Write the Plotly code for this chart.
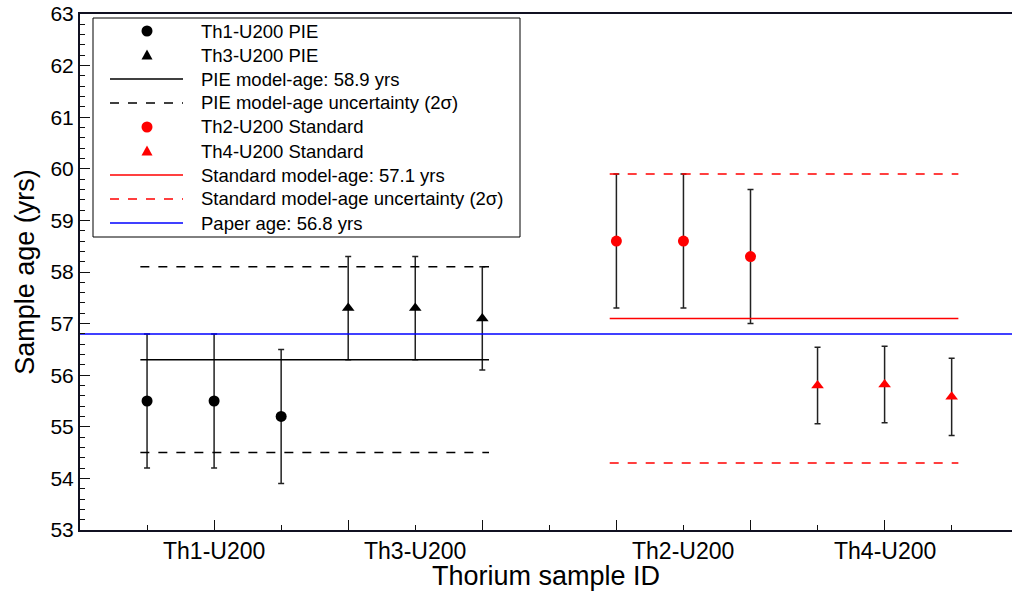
import plotly.graph_objects as go

# ---- data ----
x_th1 = [1, 2, 3]
x_th3 = [4, 5, 6]
x_th2 = [8, 9, 10]
x_th4 = [11, 12, 13]

th1_age = [55.5, 55.5, 55.2]
th1_err = [1.3, 1.3, 1.3]
th3_age = [57.3, 57.3, 57.1]
th3_err = [1.0, 1.0, 1.0]
th2_age = [58.6, 58.6, 58.3]
th2_err = [1.3, 1.3, 1.3]
th4_age = [55.8, 55.82, 55.58]
th4_err = [0.74, 0.74, 0.75]

pie_model = 56.3
pie_upper = 58.1
pie_lower = 54.5
std_model = 57.1
std_upper = 59.9
std_lower = 54.3
paper_age = 56.8

label_pos = [2, 5, 9, 12]
label_text = ["Th1-U200", "Th3-U200", "Th2-U200", "Th4-U200"]

legend_names = [
    "Th1-U200 PIE",
    "Th3-U200 PIE",
    "PIE model-age: 58.9 yrs",
    "PIE model-age uncertainty (2σ)",
    "Th2-U200 Standard",
    "Th4-U200 Standard",
    "Standard model-age: 57.1 yrs",
    "Standard model-age uncertainty (2σ)",
    "Paper age: 56.8 yrs",
]
legend_kinds = ["circle", "triangle", "solid", "dash", "circle", "triangle",
                "solid", "dash", "solid"]
legend_colors = ["black", "black", "black", "black", "red", "red", "red",
                 "red", "blue"]

x_range = [0.0, 13.9]
ext = 0.1

FONT = "Liberation Sans, Arial, Helvetica, sans-serif"
W, H = 1012, 593
ML, MR, MT, MB = 80, 0, 14, 63
PW, PH = W - ML - MR, H - MT - MB


def px(xp):
    return (xp - ML) / PW


def py(yp):
    return 1 - (yp - MT) / PH


pie_x0, pie_x1 = x_th1[0] - ext, x_th3[-1] + ext
std_x0, std_x1 = x_th2[0] - ext, x_th4[-1] + ext

fig = go.Figure()


def pts(x, y, e, color, symbol, name):
    fig.add_trace(go.Scatter(
        x=x, y=y, mode="markers", name=name, showlegend=False,
        marker=dict(color=color, symbol=symbol, size=11, line=dict(width=0)),
        error_y=dict(type="data", array=e, visible=True, color="#222222",
                     thickness=1.5, width=3),
    ))


def hline(x0, x1, y, color, name):
    fig.add_trace(go.Scatter(
        x=[x0, x1], y=[y, y], mode="lines", name=name, showlegend=False,
        line=dict(color=color, width=1.5),
    ))


def hband(x0, x1, yu, yl, color, name):
    fig.add_trace(go.Scatter(
        x=[x0, x1, None, x0, x1], y=[yu, yu, None, yl, yl], mode="lines",
        name=name, showlegend=False,
        line=dict(color=color, width=1.5, dash="9px,9px"),
    ))


pts(x_th1, th1_age, th1_err, "black", "circle", legend_names[0])
pts(x_th3, th3_age, th3_err, "black", "triangle-up", legend_names[1])
hline(pie_x0, pie_x1, pie_model, "black", legend_names[2])
hband(pie_x0, pie_x1, pie_upper, pie_lower, "black", legend_names[3])
pts(x_th2, th2_age, th2_err, "red", "circle", legend_names[4])
pts(x_th4, th4_age, th4_err, "red", "triangle-up", legend_names[5])
hline(std_x0, std_x1, std_model, "red", legend_names[6])
hband(std_x0, std_x1, std_upper, std_lower, "red", legend_names[7])
hline(x_range[0], x_range[1], paper_age, "blue", legend_names[8])

# category labels under the axis
for xp, txt in zip(label_pos, label_text):
    fig.add_annotation(x=xp, y=0, xref="x", yref="paper", text=txt,
                       showarrow=False, yanchor="top", yshift=-6,
                       font=dict(size=23, color="black", family=FONT))

# ---- legend box (drawn by hand to match the reference sizes) ----
shapes = [dict(type="rect", xref="paper", yref="paper",
               x0=px(93), x1=px(520), y0=py(237), y1=py(18),
               line=dict(color="black", width=1), fillcolor="white",
               layer="above")]
row0, rowstep = 31, 24
for i, (name, kind, col) in enumerate(zip(legend_names, legend_kinds,
                                          legend_colors)):
    yc = row0 + rowstep * i
    if kind in ("solid", "dash"):
        shapes.append(dict(
            type="line", xref="paper", yref="paper",
            x0=px(110), x1=px(183), y0=py(yc), y1=py(yc),
            line=dict(color=col, width=1.5,
                      dash="solid" if kind == "solid" else "9px,9px"),
            layer="above"))
    elif kind == "circle":
        shapes.append(dict(
            type="circle", xref="paper", yref="paper",
            xsizemode="pixel", ysizemode="pixel",
            xanchor=px(147), yanchor=py(yc),
            x0=-5.5, x1=5.5, y0=-5.5, y1=5.5,
            fillcolor=col, line=dict(width=0), layer="above"))
    else:
        shapes.append(dict(
            type="path", xref="paper", yref="paper",
            xsizemode="pixel", ysizemode="pixel",
            xanchor=px(147), yanchor=py(yc),
            path="M -5.5 -4.5 L 5.5 -4.5 L 0 5.5 Z",
            fillcolor=col, line=dict(width=0), layer="above"))
    fig.add_annotation(x=px(199), y=py(yc), xref="paper", yref="paper",
                       text=name, showarrow=False, xanchor="left",
                       yanchor="middle",
                       font=dict(size=18.5, color="black", family=FONT))

fig.update_layout(
    width=W, height=H,
    margin=dict(l=ML, r=MR, t=MT, b=MB, autoexpand=False),
    paper_bgcolor="white", plot_bgcolor="white",
    font=dict(family=FONT, color="black"),
    showlegend=False,
    shapes=shapes,
    xaxis=dict(
        range=x_range, showgrid=False, zeroline=False,
        showline=True, linecolor="#111122", linewidth=2, mirror=True,
        tickmode="array", tickvals=[2, 4, 6, 8, 10, 12],
        ticktext=["", "", "", "", "", ""],
        ticks="inside", ticklen=10, tickcolor="#111111", tickwidth=1,
        minor=dict(tickmode="array", tickvals=[1, 3, 5, 7, 9, 11, 13],
                   ticks="inside", ticklen=5, tickcolor="#111111", tickwidth=1),
        title=dict(text="Thorium sample ID", font=dict(size=27, family=FONT),
                   standoff=33),
    ),
    yaxis=dict(
        range=[53, 63], showgrid=False, zeroline=False,
        showline=True, linecolor="#111122", linewidth=2,
        tickmode="linear", tick0=53, dtick=1,
        ticks="inside", ticklen=10, tickcolor="#111111", tickwidth=1,
        minor=dict(dtick=0.2, ticks="inside", ticklen=5,
                   tickcolor="#111111", tickwidth=1),
        tickfont=dict(size=21, family=FONT),
        title=dict(text="Sample age (yrs)", font=dict(size=27, family=FONT),
                   standoff=8),
    ),
)

fig.write_html("out.html")
